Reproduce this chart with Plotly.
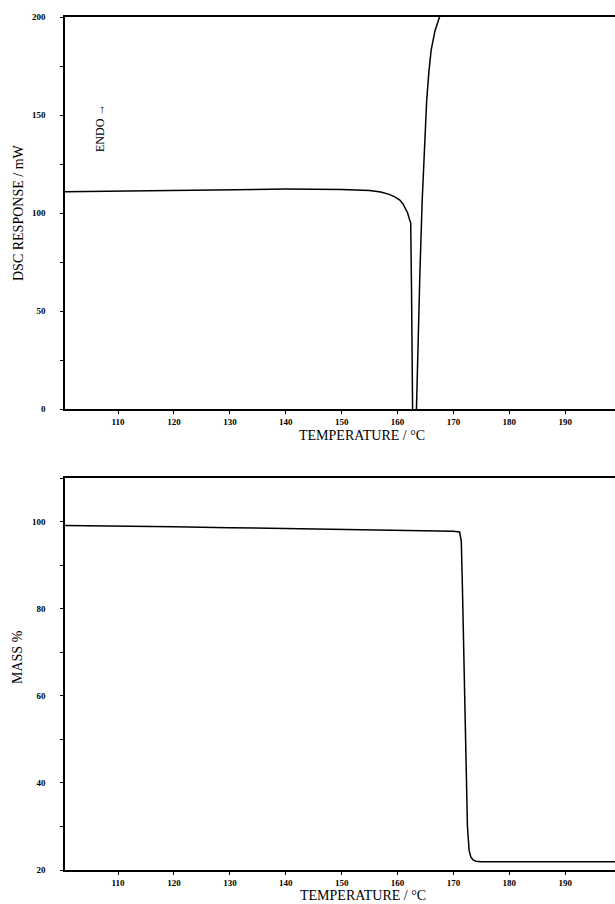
import plotly.graph_objects as go

# DSC curve (temperature in °C, response in mW)
dsc_temp = [100.5, 110, 120, 130, 140, 150, 155, 157, 158.5, 159.5, 160.4, 161.0, 161.5, 161.8, 162.1, 162.35, 162.5, 162.6, 162.75,
            163.2, 163.35, 163.7, 164.0, 164.4, 164.8, 165.2, 165.6, 166.0, 166.7, 167.5, 168.5]
dsc_resp = [110.9, 111.3, 111.7, 112.0, 112.2, 112.0, 111.5, 110.7, 109.5, 108.2, 106.6, 104.5, 102.0, 100.0, 97.0, 95.0, 60.0, 20.0, -20.0,
            -20.0, 0.0, 38.0, 70.0, 106.0, 135.0, 157.0, 172.0, 183.0, 193.0, 200.0, 215.0]

# TG curve (temperature in °C, mass %)
mass_temp = [100.5, 110, 120, 130, 140, 150, 160, 165, 170, 171.1, 171.4, 171.6, 171.9, 172.2, 172.5, 172.8, 173.1, 173.5, 174.0, 175.0, 185.0, 199.0]
mass_pct = [99.1, 99.0, 98.8, 98.6, 98.4, 98.2, 98.0, 97.9, 97.8, 97.6, 95.5, 85.0, 65.0, 45.0, 30.0, 24.5, 23.0, 22.3, 22.0, 21.9, 21.9, 21.9]

x_ticks = [110, 120, 130, 140, 150, 160, 170, 180, 190]
dsc_ticks = [0, 50, 100, 150, 200]
mass_ticks = [20, 40, 60, 80, 100]

X_RANGE = [100.5, 198.9]
DSC_RANGE = [0, 200]
MASS_RANGE = [20, 110]

W, H = 615, 904
L = 65
PW = W - L
top_dom = [(H - 409) / H, (H - 17) / H]
bot_dom = [(H - 870) / H, (H - 478) / H]

tickfont = dict(family="Liberation Serif", size=9, color="black", weight="bold")
titlefont = dict(family="Liberation Serif", size=14, color="black")

fig = go.Figure()
fig.add_trace(go.Scatter(x=dsc_temp, y=dsc_resp, mode="lines",
                         line=dict(color="black", width=1.5), xaxis="x", yaxis="y", showlegend=False))
fig.add_trace(go.Scatter(x=mass_temp, y=mass_pct, mode="lines",
                         line=dict(color="black", width=1.5), xaxis="x2", yaxis="y2", showlegend=False))

def xax(anchor):
    return dict(domain=[0, 1], range=X_RANGE, anchor=anchor, showline=True, linecolor="black", linewidth=1.5,
                mirror=True, ticks="outside", ticklen=3, tickwidth=1, tickcolor="black",
                tickvals=x_ticks, ticktext=[str(v) for v in x_ticks], tickfont=tickfont,
                showgrid=False, zeroline=False, ticklabelstandoff=0)

def yax(dom, rng, tv, minor_step, anchor):
    return dict(domain=dom, range=rng, anchor=anchor, showline=True, linecolor="black", linewidth=1.5,
                mirror=False, ticks="outside", ticklen=3, tickwidth=1, tickcolor="black",
                tickvals=tv, ticktext=[str(v) for v in tv], tickfont=tickfont,
                minor=dict(ticks="outside", ticklen=3, tickwidth=1, tickcolor="black", dtick=minor_step, tick0=rng[0]),
                showgrid=False, zeroline=False, ticklabelstandoff=13)

def yin(dom, rng, minor_step, anchor, overlay):
    return dict(domain=dom, range=rng, anchor=anchor, overlaying=overlay, showline=False,
                ticks="inside", ticklen=3, tickwidth=1, tickcolor="black", dtick=minor_step, tick0=rng[0],
                showticklabels=False, showgrid=False, zeroline=False)

fig.update_layout(
    template="none",
    width=W, height=H,
    margin=dict(l=L, r=0, t=0, b=0, pad=0),
    paper_bgcolor="white", plot_bgcolor="white",
    xaxis=xax("y"),
    yaxis=yax(top_dom, DSC_RANGE, dsc_ticks, 25, "x"),
    xaxis2=xax("y2"),
    yaxis2=yax(bot_dom, MASS_RANGE, mass_ticks, 10, "x2"),
    yaxis3=yin(top_dom, DSC_RANGE, 25, "x", "y"),
    yaxis4=yin(bot_dom, MASS_RANGE, 10, "x2", "y2"),
)

def px_x(p):
    return (p - L) / PW

def px_y(p):
    return (H - p) / H

annots = [
    dict(text="DSC RESPONSE / mW", x=px_x(19), y=px_y(213), textangle=-90, font=titlefont),
    dict(text="ENDO →", x=px_x(100), y=px_y(128), textangle=-90, font=dict(family="Liberation Serif", size=12, color="black")),
    dict(text="TEMPERATURE / °C", x=px_x(362), y=px_y(435), font=titlefont),
    dict(text="MASS %", x=px_x(17), y=px_y(657), textangle=-90, font=titlefont),
    dict(text="TEMPERATURE / °C", x=px_x(363), y=px_y(895), font=titlefont),
]
for a in annots:
    fig.add_annotation(xref="paper", yref="paper", showarrow=False, xanchor="center", yanchor="middle", **a)

fig.write_html("out.html", config={"displayModeBar": False},
               post_script="document.body.style.margin='0';document.body.style.overflow='hidden';"
                           "document.documentElement.style.overflow='hidden';")
